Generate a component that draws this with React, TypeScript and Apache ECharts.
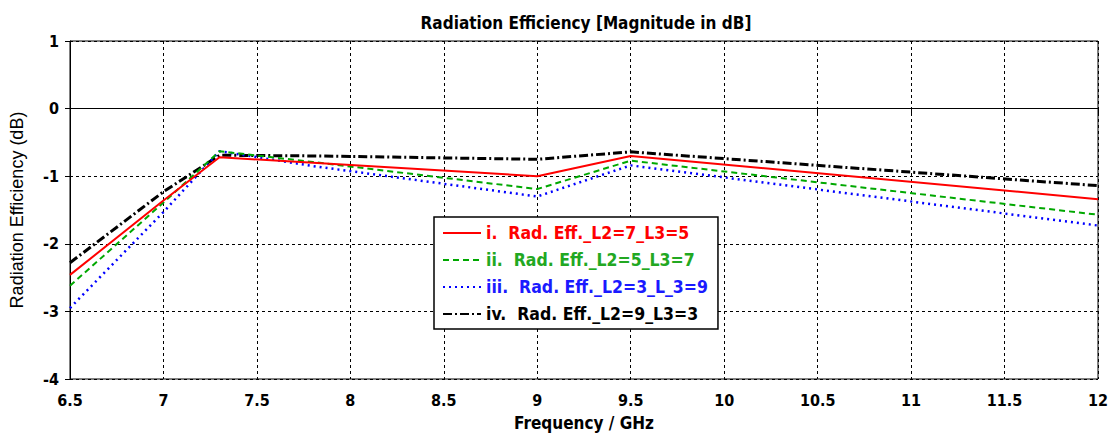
import React, { useEffect, useRef } from "react";
import * as echarts from "echarts";

const freq = [6.5, 7.0, 7.3, 7.8, 9.0, 9.5, 12.0];
const redVals = [-2.46, -1.36, -0.72, -0.8, -1.0, -0.7, -1.34];
const greenVals = [-2.62, -1.39, -0.63, -0.79, -1.19, -0.77, -1.57];
const blueVals = [-2.95, -1.53, -0.63, -0.85, -1.3, -0.84, -1.73];
const blackVals = [-2.28, -1.23, -0.69, -0.7, -0.75, -0.64, -1.14];

const seriesNames = [
  "i.  Rad. Eff._L2=7_L3=5",
  "ii.  Rad. Eff._L2=5_L3=7",
  "iii.  Rad. Eff._L2=3_L_3=9",
  "iv.  Rad. Eff._L2=9_L3=3",
];
const lineColors = ["#ff0000", "#00a800", "#0000ff", "#000000"];
const textColors = ["#ff0000", "#22a822", "#1a1aff", "#000000"];

const FONT = "'DejaVu Sans Condensed', 'DejaVu Sans', sans-serif";

export default function App() {
  const ref = useRef<HTMLDivElement>(null);
  useEffect(() => {
    document.body.style.margin = "0";
    const chart = echarts.init(ref.current!, null, { renderer: "svg" });
    const allVals = [redVals, greenVals, blueVals, blackVals];
    const styles: any[] = [
      { type: "solid", width: 2 },
      { type: [6, 4], width: 2 },
      { type: [2, 4], width: 2.5 },
      { type: [9, 3, 2, 3], width: 3 },
    ];
    chart.setOption({
      animation: false,
      backgroundColor: "#fff",
      title: {
        text: "Radiation Efficiency [Magnitude in dB]",
        left: 581,
        top: 9,
        textAlign: "center",
        textStyle: { fontFamily: FONT, fontWeight: "bold", fontSize: 17, color: "#000" },
      },
      legend: {
        orient: "vertical",
        left: 434,
        top: 217,
        backgroundColor: "#fff",
        borderColor: "#000",
        borderWidth: 1.5,
        borderRadius: 0,
        padding: [7, 10, 6, 8],
        itemWidth: 38,
        itemHeight: 18,
        itemGap: 9,
        itemStyle: { opacity: 0 },
        data: seriesNames.map((n, i) => ({
          name: n,
          textStyle: { color: textColors[i] },
        })),
        textStyle: { fontFamily: FONT, fontWeight: "bold", fontSize: 17.5, lineHeight: 18 },
      },
      grid: {
        left: 66,
        right: 22,
        top: 41,
        bottom: 60,
        show: true,
        borderColor: "#000",
        borderWidth: 1,
      },
      xAxis: {
        type: "value",
        min: 6.5,
        max: 12,
        interval: 0.5,
        name: "Frequency / GHz",
        nameLocation: "middle",
        nameGap: 35,
        nameTextStyle: { fontFamily: FONT, fontWeight: "bold", fontSize: 17, color: "#000" },
        axisLine: { show: true, lineStyle: { color: "#000", width: 1 } },
        axisTick: { show: true, inside: false, length: 5, lineStyle: { color: "#000" } },
        axisLabel: { fontFamily: FONT, fontWeight: "bold", fontSize: 16, color: "#000", margin: 13 },
        splitLine: { show: true, lineStyle: { color: "#000", type: [3, 3], width: 1 } },
      },
      yAxis: {
        type: "value",
        min: -4,
        max: 1,
        interval: 1,
        name: "Radiation Efficiency (dB)",
        nameLocation: "middle",
        nameGap: 44,
        nameTextStyle: { fontFamily: "'Liberation Sans', Arial, sans-serif", fontWeight: "normal", fontSize: 18, color: "#000" },
        axisLine: { show: true, lineStyle: { color: "#000", width: 1 } },
        axisTick: { show: true, inside: false, length: 5, lineStyle: { color: "#000" } },
        axisLabel: { fontFamily: FONT, fontWeight: "bold", fontSize: 16, color: "#000", margin: 11 },
        splitLine: { show: true, lineStyle: { color: "#000", type: [3, 3], width: 1 } },
      },
      series: seriesNames.map((n, i) => ({
        name: n,
        type: "line",
        symbol: "none",
        showSymbol: false,
        data: freq.map((f, j) => [f, allVals[i][j]]),
        lineStyle: { color: lineColors[i], ...styles[i] },
        itemStyle: { color: lineColors[i] },
        z: 10 - i,
      })),
    });
    return () => chart.dispose();
  }, []);
  return <div ref={ref} style={{ width: 1120, height: 439 }} />;
}
